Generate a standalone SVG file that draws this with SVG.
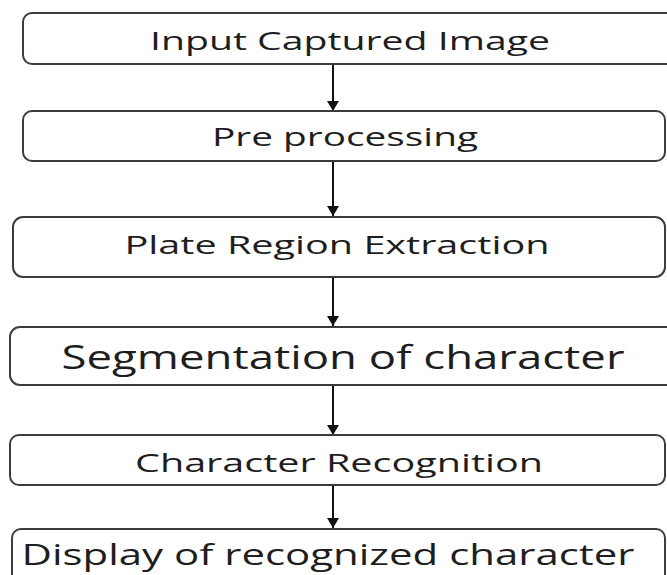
<svg xmlns="http://www.w3.org/2000/svg" width="667" height="575" viewBox="0 0 667 575">
  <style>
    .box { fill: #ffffff; stroke: #3c3c3c; stroke-width: 2; }
    .label { font-family: "Open Sans", "Noto Sans", "Liberation Sans", sans-serif; fill: #1e1e1e; text-anchor: middle; }
    .flow { stroke: #111111; stroke-width: 2; fill: none; marker-end: url(#head); }
  </style>
  <defs>
    <!-- downward-pointing filled arrowhead, tip at the end of the line -->
    <marker id="head" viewBox="0 0 10 12" refX="10" refY="6" markerWidth="10" markerHeight="12" markerUnits="userSpaceOnUse" orient="auto">
      <path d="M0,0 L10,6 L0,12 Z" fill="#111111"/>
    </marker>
  </defs>
  <rect width="667" height="575" fill="#ffffff"/>

  <g id="connectors">
    <line class="flow" x1="333" y1="64" x2="333" y2="111"/>
    <line class="flow" x1="333" y1="161" x2="333" y2="216"/>
    <line class="flow" x1="333" y1="277" x2="333" y2="326"/>
    <line class="flow" x1="333" y1="385" x2="333" y2="435"/>
    <line class="flow" x1="333" y1="485" x2="333" y2="528"/>
  </g>

  <g id="input">
    <rect class="box" x="23" y="13" width="660" height="51" rx="9"/>
    <text class="label" x="350" y="50" font-size="26" textLength="400" lengthAdjust="spacingAndGlyphs">Input Captured Image</text>
  </g>
  <g id="preprocessing">
    <rect class="box" x="23" y="111" width="642" height="50" rx="9"/>
    <text class="label" x="345" y="146" font-size="26" textLength="266" lengthAdjust="spacingAndGlyphs">Pre processing</text>
  </g>
  <g id="plate-extraction">
    <rect class="box" x="13" y="217" width="652" height="60" rx="10"/>
    <text class="label" x="337" y="254" font-size="26" textLength="425" lengthAdjust="spacingAndGlyphs">Plate Region Extraction</text>
  </g>
  <g id="segmentation">
    <rect class="box" x="10" y="327" width="672" height="58" rx="10"/>
    <text class="label" x="343" y="369" font-size="32" textLength="563" lengthAdjust="spacingAndGlyphs">Segmentation of character</text>
  </g>
  <g id="recognition">
    <rect class="box" x="10" y="435" width="655" height="50" rx="9"/>
    <text class="label" x="339" y="472" font-size="26" textLength="408" lengthAdjust="spacingAndGlyphs">Character Recognition</text>
  </g>
  <g id="display">
    <rect class="box" x="12" y="529" width="653" height="60" rx="9"/>
    <text class="label" x="328" y="565" font-size="30" textLength="613" lengthAdjust="spacingAndGlyphs">Display of recognized character</text>
  </g>
</svg>
